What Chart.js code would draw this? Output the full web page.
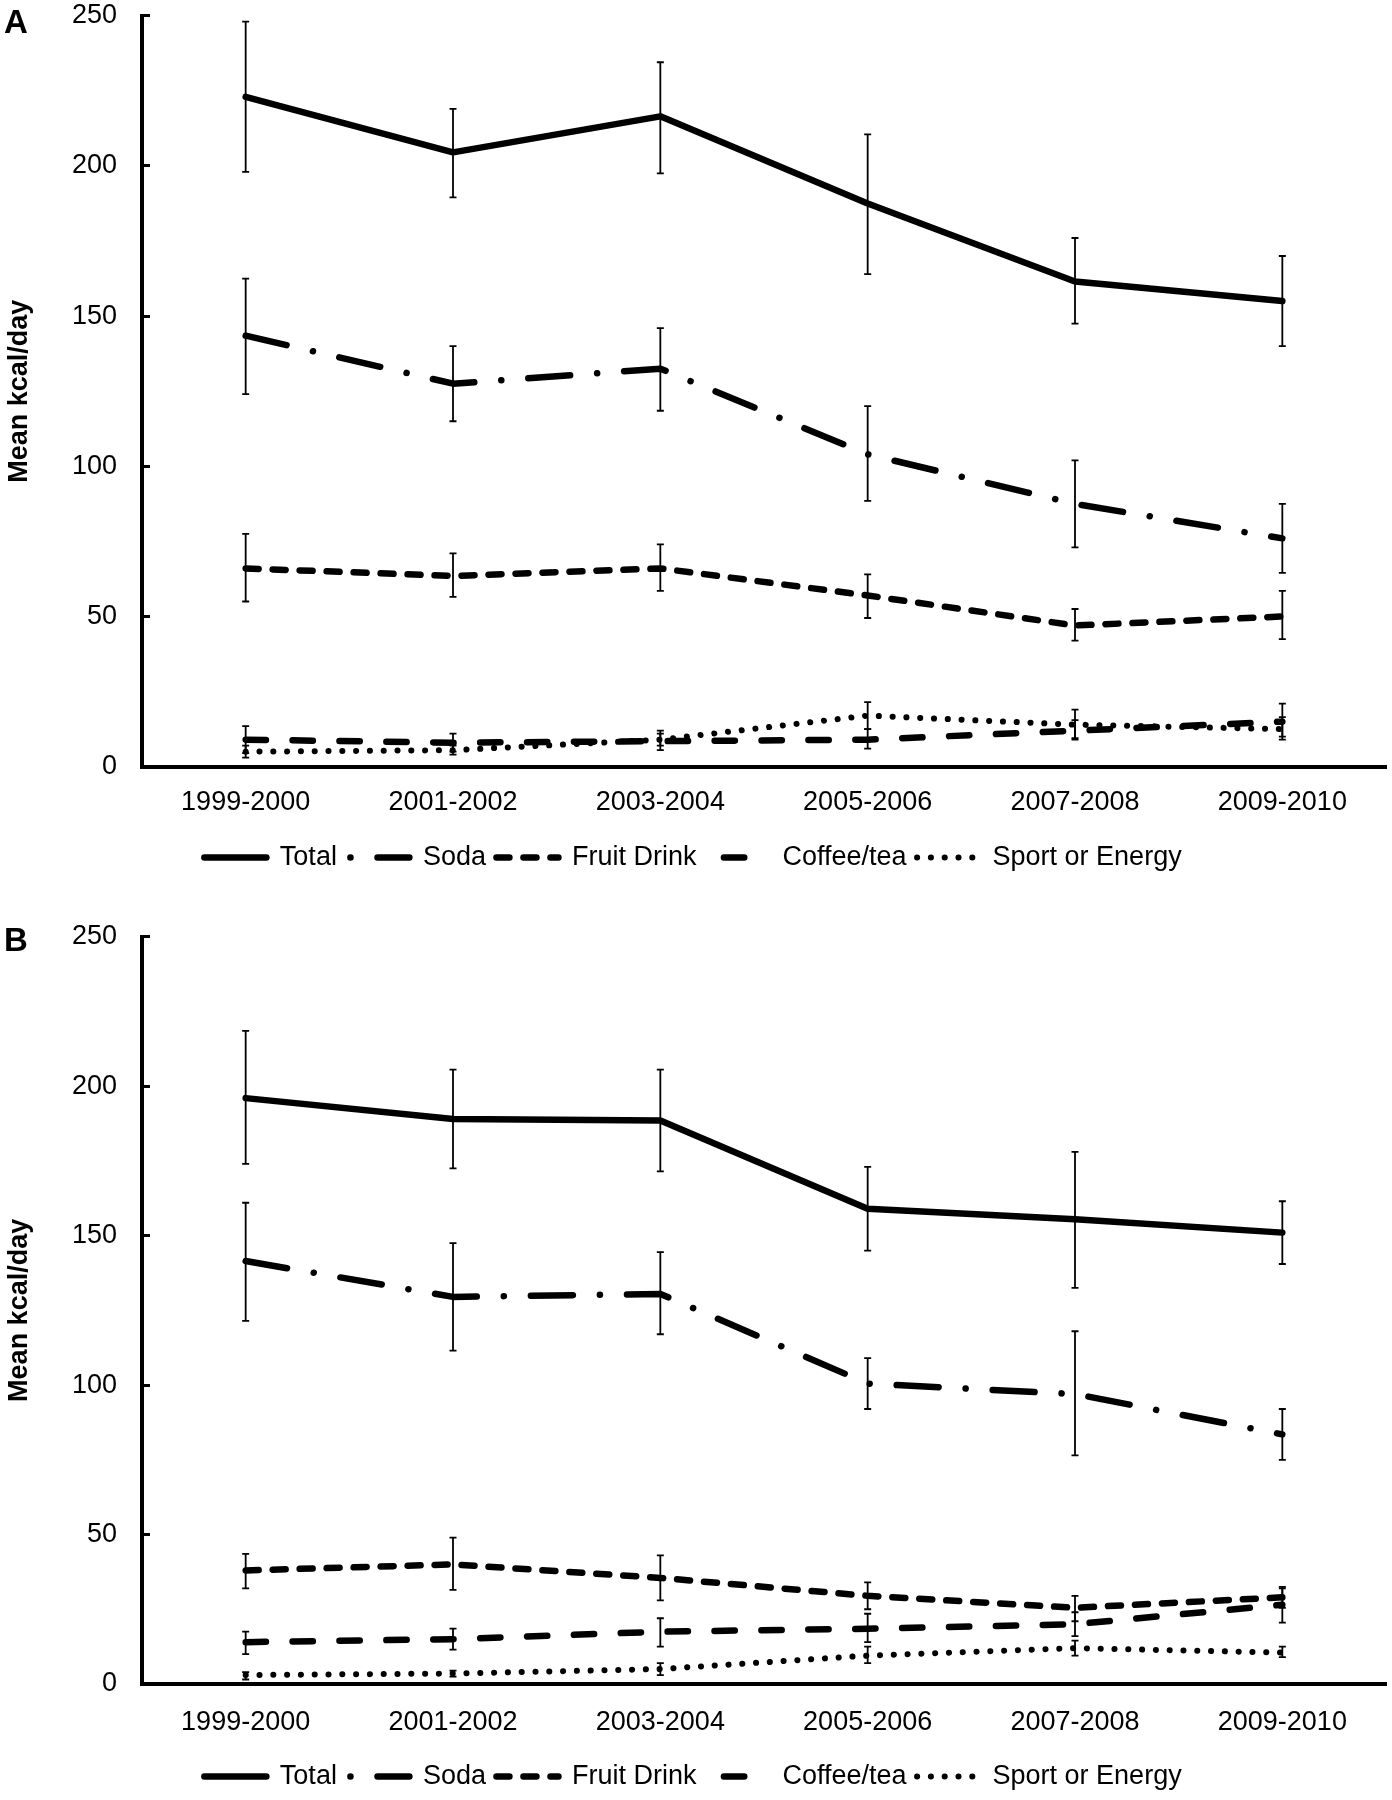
<!DOCTYPE html>
<html>
<head>
<meta charset="utf-8">
<script src="https://cdn.jsdelivr.net/npm/chart.js@4.4.1/dist/chart.umd.min.js"></script>
<style>
  body { margin: 0; background: #fff; }
  .panel { position: relative; width: 1392px; height: 900px; }
  .panel canvas { display: block; }
  .tag { position: absolute; left: 4px; font: bold 33px 'Liberation Sans', Arial, sans-serif; line-height: 1; color: #000; }
</style>
</head>
<body>
<div class="panel"><div class="tag" style="top:5px">A</div><canvas id="chartA" width="1392" height="900"></canvas></div>
<div class="panel"><div class="tag" style="top:23px">B</div><canvas id="chartB" width="1392" height="900"></canvas></div>
<script>
const periods = ['1999-2000', '2001-2002', '2003-2004', '2005-2006', '2007-2008', '2009-2010'];
const seriesNames = ['Total', 'Soda', 'Fruit Drink', 'Coffee/tea', 'Sport or Energy'];
const yMin = 0, yMax = 250, yStep = 50;

// panel A - values and [low, high] error bars
const totalA = [223, 204.5, 216.5, 187.5, 161.5, 155];
const totalAErr = [[198, 248], [189.5, 219], [197.5, 234.5], [164, 210.5], [147.5, 176], [140, 170]];
const sodaA = [143.5, 127.5, 132.5, 104, 87.5, 76];
const sodaAErr = [[124, 162.5], [115, 140], [118.5, 146], [88.5, 120], [73, 102], [64.5, 87.5]];
const fruitA = [66, 63.5, 66, 57, 47, 50];
const fruitAErr = [[55, 77.5], [56.5, 71], [58.5, 74], [49.5, 64], [42, 52.5], [42.5, 58.5]];
const coffeeA = [9, 8, 8.5, 9, 12, 15];
const coffeeAErr = [[4.5, 13.5], [5, 11], [5.5, 12], [6, 12.5], [9, 15.5], [9, 21]];
const sportA = [5, 5.5, 9, 17, 14, 12.5];
const sportAErr = [[3, 7], [4, 7], [7, 11], [12.5, 21.5], [9.5, 19], [10, 16.5]];

// panel B
const totalB = [196, 189, 188.5, 159, 155.5, 151];
const totalBErr = [[174, 218.5], [172.5, 205.5], [171.5, 205.5], [145, 173], [132.5, 178], [140.5, 161.5]];
const sodaB = [141.5, 129.5, 130.5, 100.5, 97, 83.5];
const sodaBErr = [[121.5, 161], [111.5, 147.5], [117, 144.5], [92, 109], [76.5, 118], [75, 92]];
const fruitB = [38, 40, 35.5, 29.5, 25.5, 29];
const fruitBErr = [[32, 43.5], [31.5, 49], [28, 43], [25, 34], [21, 29.5], [25.5, 32.5]];
const coffeeB = [14, 15, 17.5, 18.5, 20, 26.5];
const coffeeBErr = [[10, 17.5], [11.5, 18.5], [12.5, 22], [14, 23.5], [16, 24], [20.5, 32]];
const sportB = [3, 3.5, 5, 9.5, 12, 10.5];
const sportBErr = [[1.5, 4], [2.5, 4.5], [3, 7], [7, 12.5], [9.5, 14.5], [9, 12.5]];

const lineStyles = [
  {width: 6.5, dash: []},
  {width: 6.5, dash: [42, 27, 0.1, 27]},
  {width: 6.5, dash: [13, 14]},
  {width: 6.5, dash: [20.3, 26.6]},
  {width: 6, dash: [0.1, 13.7]}
];
const legendDashOffsets = [0, 66, 0, 29.9, 0];

Chart.defaults.font.family = "'Liberation Sans', Arial, sans-serif";
Chart.defaults.font.size = 27;
Chart.defaults.color = '#000';

const errorBars = {
  id: 'errorBars',
  afterDatasetsDraw(chart) {
    const {ctx, scales: {x, y}} = chart;
    ctx.save();
    ctx.strokeStyle = '#000';
    ctx.lineWidth = 1.8;
    chart.data.datasets.forEach(ds => {
      ds.errors.forEach(([lo, hi], i) => {
        const px = x.getPixelForValue(i);
        const top = y.getPixelForValue(hi);
        const bot = y.getPixelForValue(lo);
        ctx.beginPath();
        ctx.moveTo(px, top); ctx.lineTo(px, bot);
        ctx.moveTo(px - 3.5, top); ctx.lineTo(px + 3.5, top);
        ctx.moveTo(px - 3.5, bot); ctx.lineTo(px + 3.5, bot);
        ctx.stroke();
      });
    });
    ctx.restore();
  }
};

function makeChart(id, values, errors, pad) {
  return new Chart(document.getElementById(id), {
    type: 'line',
    data: {
      labels: periods,
      datasets: seriesNames.map((name, i) => ({
        label: name,
        data: values[i],
        errors: errors[i],
        borderColor: '#000',
        backgroundColor: '#000',
        borderWidth: lineStyles[i].width,
        borderDash: lineStyles[i].dash,
        borderCapStyle: 'round',
        borderJoinStyle: 'round',
        pointRadius: 0,
        pointHoverRadius: 0,
        tension: 0,
        fill: false
      }))
    },
    options: {
      responsive: false,
      animation: false,
      layout: {padding: {top: pad.top, bottom: pad.bottom, left: 0, right: 6}},
      scales: {
        x: {
          offset: true,
          grid: {display: false, drawTicks: false},
          border: {display: true, color: '#000', width: 4},
          ticks: {padding: pad.xTick, maxRotation: 0, autoSkip: false},
          afterFit: s => { s.height = pad.xHeight; }
        },
        y: {
          min: yMin,
          max: yMax,
          ticks: {stepSize: yStep, padding: 33},
          grid: {drawOnChartArea: false, drawTicks: true, tickLength: -8, color: '#000', lineWidth: 3},
          border: {display: true, color: '#000', width: 4},
          title: {display: true, text: 'Mean kcal/day', font: {size: 27, weight: 'bold'}, padding: {top: 3, bottom: 0}},
          afterFit: s => {
            s.width = 142;
            // keep the big label padding from pushing the plot area down
            s.paddingTop = 15;
            s.paddingBottom = 15;
          }
        }
      },
      plugins: {
        legend: {
          position: 'bottom',
          labels: {
            usePointStyle: true,
            pointStyle: 'line',
            pointStyleWidth: 62,
            padding: 10.5,
            generateLabels(chart) {
              const items = Chart.defaults.plugins.legend.labels.generateLabels(chart);
              items.forEach((it, i) => {
                it.lineDash = lineStyles[i].dash;
                it.lineWidth = lineStyles[i].width;
                it.lineCap = 'round';
                it.lineDashOffset = legendDashOffsets[i];
              });
              return items;
            }
          }
        },
        tooltip: {enabled: false}
      }
    },
    plugins: [errorBars]
  });
}

makeChart('chartA',
  [totalA, sodaA, fruitA, coffeeA, sportA],
  [totalAErr, sodaAErr, fruitAErr, coffeeAErr, sportAErr],
  {top: 15.7, bottom: 19, xHeight: 66.8, xTick: 19.5});

makeChart('chartB',
  [totalB, sodaB, fruitB, coffeeB, sportB],
  [totalBErr, sodaBErr, fruitBErr, coffeeBErr, sportBErr],
  {top: 36.7, bottom: 0, xHeight: 68.5, xTick: 22.5});
</script>
</body>
</html>
